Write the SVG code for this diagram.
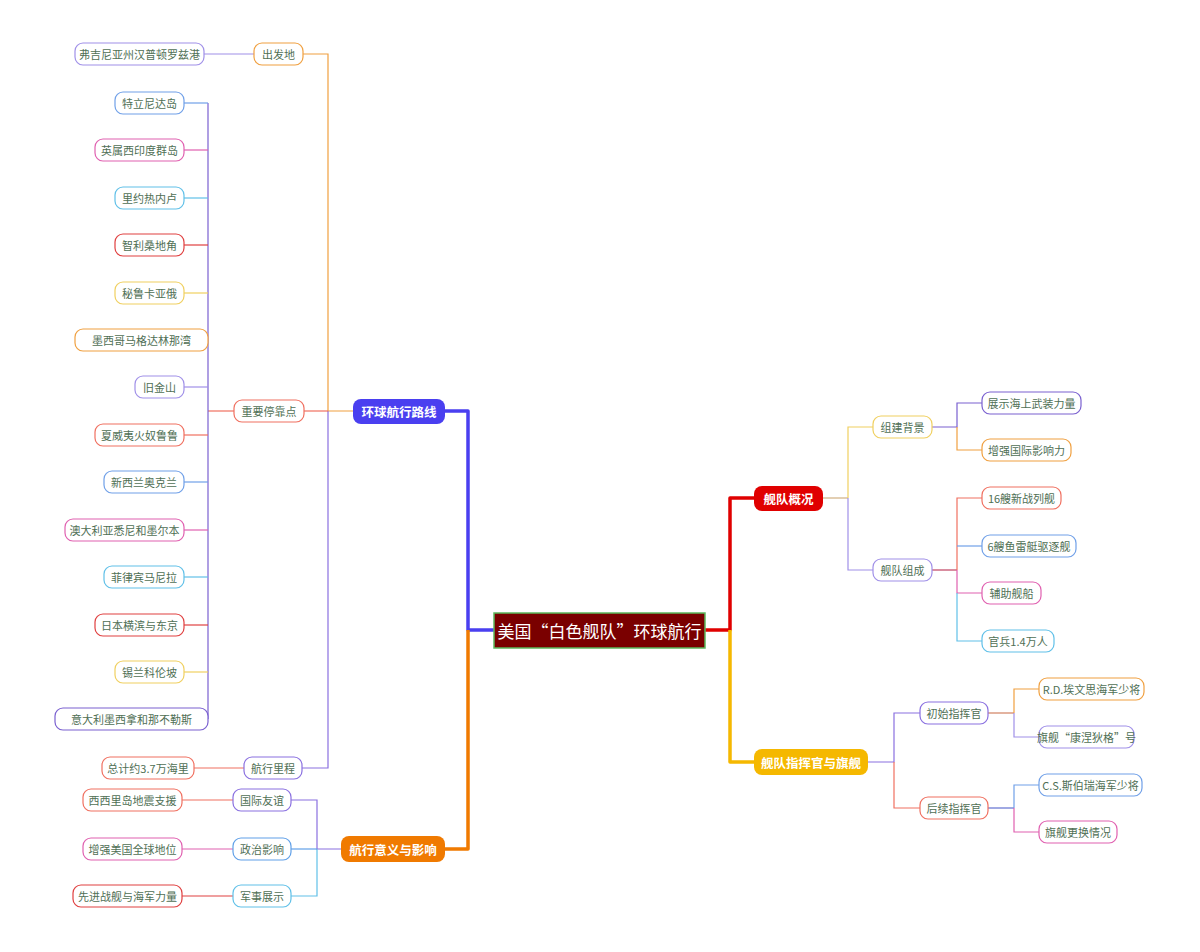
<svg xmlns="http://www.w3.org/2000/svg" width="1200" height="952" viewBox="0 0 1200 952">
<style>
text{font-family:"Noto Sans CJK SC","Liberation Sans",sans-serif;font-size:11px;fill:#4f6f55;text-anchor:middle;dominant-baseline:central}
.n rect{fill:#fff;stroke-width:1.2}
.b text{fill:#fff;font-size:12.5px;font-weight:bold}
.c{fill:none;stroke-width:1.2}
.t{fill:none;stroke-width:3.5;stroke-linejoin:round}
</style>
<rect width="1200" height="952" fill="#fff"/>
<g id="connectors">
<path class="t" stroke="#4a3ff0" d="M494 630H468V411H445"/>
<path class="t" stroke="#f07a00" d="M468 630V849H445"/>
<path class="t" stroke="#e00000" d="M705 630H730V498H754"/>
<path class="t" stroke="#f5b800" d="M730 630V762H754"/>
<path class="c" stroke="#f0a040" d="M353 411H328V54H303"/>
<path class="c" stroke="#8a70e0" d="M328 411V768H302"/>
<path class="c" stroke="#f07060" d="M328 411H304"/>
<path class="c" stroke="#a090e8" d="M254 54H204"/>
<path class="c" stroke="#f07060" d="M234 411H208"/>
<path class="c" stroke="#7a60d0" d="M208 103V719"/>
<path class="c" stroke="#70a0e8" d="M184 103H208"/>
<path class="c" stroke="#e060b0" d="M184 150H208"/>
<path class="c" stroke="#60c0e8" d="M184 198H208"/>
<path class="c" stroke="#e04040" d="M184 245H208"/>
<path class="c" stroke="#f0d060" d="M184 293H208"/>
<path class="c" stroke="#f0a040" d="M208 340H184"/>
<path class="c" stroke="#a090e8" d="M184 387H208"/>
<path class="c" stroke="#f07060" d="M184 435H208"/>
<path class="c" stroke="#70a0e8" d="M184 482H208"/>
<path class="c" stroke="#e060b0" d="M184 530H208"/>
<path class="c" stroke="#60c0e8" d="M184 577H208"/>
<path class="c" stroke="#e04040" d="M184 625H208"/>
<path class="c" stroke="#f0d060" d="M184 672H208"/>
<path class="c" stroke="#7a60d0" d="M184 719H208"/>
<path class="c" stroke="#f07060" d="M244 768H194"/>
<path class="c" stroke="#8a70e0" d="M341 849H317V800H291"/>
<path class="c" stroke="#60c0e8" d="M317 849V896H291"/>
<path class="c" stroke="#60a0e8" d="M317 849H291"/>
<path class="c" stroke="#f07060" d="M233 800H182"/>
<path class="c" stroke="#e060b0" d="M233 849H182"/>
<path class="c" stroke="#e04040" d="M233 896H182"/>
<path class="c" stroke="#d0b080" d="M823 498H848"/>
<path class="c" stroke="#f0d060" d="M848 498V427H873"/>
<path class="c" stroke="#a090e8" d="M848 498V570H873"/>
<path class="c" stroke="#7a60d0" d="M932 427H957V403H982"/>
<path class="c" stroke="#f0a040" d="M957 427V450H982"/>
<path class="c" stroke="#c04060" d="M932 570H957"/>
<path class="c" stroke="#f07060" d="M957 570V498H982"/>
<path class="c" stroke="#70a0e8" d="M957 546H982"/>
<path class="c" stroke="#e060b0" d="M957 570V593H982"/>
<path class="c" stroke="#60c0e8" d="M957 593V641H982"/>
<path class="c" stroke="#8a70e0" d="M868 762H894V713H920"/>
<path class="c" stroke="#f07060" d="M894 762V808H920"/>
<path class="c" stroke="#d08060" d="M988 713H1014"/>
<path class="c" stroke="#f0a040" d="M1014 713V689H1039"/>
<path class="c" stroke="#a090e8" d="M1014 713V737H1039"/>
<path class="c" stroke="#6070d0" d="M988 808H1014"/>
<path class="c" stroke="#70a0e8" d="M1014 808V785H1039"/>
<path class="c" stroke="#e060b0" d="M1014 808V832H1039"/>
</g>
<g id="root"><rect x="494" y="613" width="211" height="35" fill="#7a0000" stroke="#5cb85c" stroke-width="1.5"/><text x="599.5" y="630.5" style="fill:#fff;font-size:17px">美国“白色舰队”环球航行</text></g>
<g id="b1" class="b"><rect x="353" y="399" width="92" height="25" rx="8" fill="#4a3ff0"/><text x="399" y="411.5">环球航行路线</text></g>
<g id="b2" class="b"><rect x="341" y="836" width="104" height="26" rx="8" fill="#f07a00"/><text x="393" y="849">航行意义与影响</text></g>
<g id="b3" class="b"><rect x="754" y="486" width="69" height="25" rx="8" fill="#e00000"/><text x="788.5" y="498.5">舰队概况</text></g>
<g id="b4" class="b"><rect x="754" y="749" width="114" height="26" rx="8" fill="#f5b800"/><text x="811" y="762">舰队指挥官与旗舰</text></g>
<g class="n">
<g id="n1"><rect x="254" y="43" width="49" height="22" rx="8" stroke="#f0a040"/><text x="278.5" y="54">出发地</text></g>
<g id="n2"><rect x="75" y="43" width="129" height="22" rx="8" stroke="#a090e8"/><text x="139.5" y="54">弗吉尼亚州汉普顿罗兹港</text></g>
<g id="n3"><rect x="234" y="400" width="70" height="22" rx="8" stroke="#f07060"/><text x="269" y="411">重要停靠点</text></g>
<g id="n4"><rect x="115" y="92" width="69" height="22" rx="8" stroke="#70a0e8"/><text x="149.5" y="103">特立尼达岛</text></g>
<g id="n5"><rect x="95" y="139" width="89" height="22" rx="8" stroke="#e060b0"/><text x="139.5" y="150">英属西印度群岛</text></g>
<g id="n6"><rect x="115" y="187" width="69" height="22" rx="8" stroke="#60c0e8"/><text x="149.5" y="198">里约热内卢</text></g>
<g id="n7"><rect x="115" y="234" width="69" height="22" rx="8" stroke="#e04040"/><text x="149.5" y="245">智利桑地角</text></g>
<g id="n8"><rect x="115" y="282" width="69" height="22" rx="8" stroke="#f0d060"/><text x="149.5" y="293">秘鲁卡亚俄</text></g>
<g id="n9"><rect x="75" y="329" width="133" height="22" rx="8" stroke="#f0a040"/><text x="141.5" y="340">墨西哥马格达林那湾</text></g>
<g id="n10"><rect x="135" y="376" width="49" height="22" rx="8" stroke="#a090e8"/><text x="159.5" y="387">旧金山</text></g>
<g id="n11"><rect x="95" y="424" width="89" height="22" rx="8" stroke="#f07060"/><text x="139.5" y="435">夏威夷火奴鲁鲁</text></g>
<g id="n12"><rect x="104" y="471" width="80" height="22" rx="8" stroke="#70a0e8"/><text x="144" y="482">新西兰奥克兰</text></g>
<g id="n13"><rect x="65" y="519" width="119" height="22" rx="8" stroke="#e060b0"/><text x="124.5" y="530">澳大利亚悉尼和墨尔本</text></g>
<g id="n14"><rect x="104" y="566" width="80" height="22" rx="8" stroke="#60c0e8"/><text x="144" y="577">菲律宾马尼拉</text></g>
<g id="n15"><rect x="95" y="614" width="89" height="22" rx="8" stroke="#e04040"/><text x="139.5" y="625">日本横滨与东京</text></g>
<g id="n16"><rect x="115" y="661" width="69" height="22" rx="8" stroke="#f0d060"/><text x="149.5" y="672">锡兰科伦坡</text></g>
<g id="n17"><rect x="55" y="708" width="153" height="22" rx="8" stroke="#7a60d0"/><text x="131.5" y="719">意大利墨西拿和那不勒斯</text></g>
<g id="n18"><rect x="244" y="757" width="58" height="22" rx="8" stroke="#8a70e0"/><text x="273" y="768">航行里程</text></g>
<g id="n19"><rect x="102" y="757" width="92" height="22" rx="8" stroke="#f07060"/><text x="148" y="768">总计约3.7万海里</text></g>
<g id="n20"><rect x="233" y="789" width="58" height="22" rx="8" stroke="#8a70e0"/><text x="262" y="800">国际友谊</text></g>
<g id="n21"><rect x="233" y="838" width="58" height="22" rx="8" stroke="#60a0e8"/><text x="262" y="849">政治影响</text></g>
<g id="n22"><rect x="233" y="885" width="58" height="22" rx="8" stroke="#60c0e8"/><text x="262" y="896">军事展示</text></g>
<g id="n23"><rect x="83" y="789" width="99" height="22" rx="8" stroke="#f07060"/><text x="132.5" y="800">西西里岛地震支援</text></g>
<g id="n24"><rect x="83" y="838" width="99" height="22" rx="8" stroke="#e060b0"/><text x="132.5" y="849">增强美国全球地位</text></g>
<g id="n25"><rect x="73" y="885" width="109" height="22" rx="8" stroke="#e04040"/><text x="127.5" y="896">先进战舰与海军力量</text></g>
<g id="n26"><rect x="873" y="416" width="59" height="22" rx="8" stroke="#f0d060"/><text x="902.5" y="427">组建背景</text></g>
<g id="n27"><rect x="873" y="559" width="59" height="22" rx="8" stroke="#a090e8"/><text x="902.5" y="570">舰队组成</text></g>
<g id="n28"><rect x="982" y="392" width="99" height="22" rx="8" stroke="#7a60d0"/><text x="1031.5" y="403">展示海上武装力量</text></g>
<g id="n29"><rect x="982" y="439" width="89" height="22" rx="8" stroke="#f0a040"/><text x="1026.5" y="450">增强国际影响力</text></g>
<g id="n30"><rect x="982" y="487" width="79" height="22" rx="8" stroke="#f07060"/><text x="1021.5" y="498">16艘新战列舰</text></g>
<g id="n31"><rect x="982" y="535" width="94" height="22" rx="8" stroke="#70a0e8"/><text x="1029" y="546">6艘鱼雷艇驱逐舰</text></g>
<g id="n32"><rect x="982" y="582" width="59" height="22" rx="8" stroke="#e060b0"/><text x="1011.5" y="593">辅助舰船</text></g>
<g id="n33"><rect x="982" y="630" width="72" height="22" rx="8" stroke="#60c0e8"/><text x="1018" y="641">官兵1.4万人</text></g>
<g id="n34"><rect x="920" y="702" width="68" height="22" rx="8" stroke="#8a70e0"/><text x="954" y="713">初始指挥官</text></g>
<g id="n35"><rect x="920" y="797" width="68" height="22" rx="8" stroke="#f07060"/><text x="954" y="808">后续指挥官</text></g>
<g id="n36"><rect x="1039" y="678" width="105" height="22" rx="8" stroke="#f0a040"/><text x="1091.5" y="689">R.D.埃文思海军少将</text></g>
<g id="n37"><rect x="1039" y="726" width="95" height="22" rx="8" stroke="#a090e8"/><text x="1086.5" y="737">旗舰“康涅狄格”号</text></g>
<g id="n38"><rect x="1039" y="774" width="103" height="22" rx="8" stroke="#70a0e8"/><text x="1090.5" y="785">C.S.斯伯瑞海军少将</text></g>
<g id="n39"><rect x="1039" y="821" width="78" height="22" rx="8" stroke="#e060b0"/><text x="1078" y="832">旗舰更换情况</text></g>
</g>
</svg>
